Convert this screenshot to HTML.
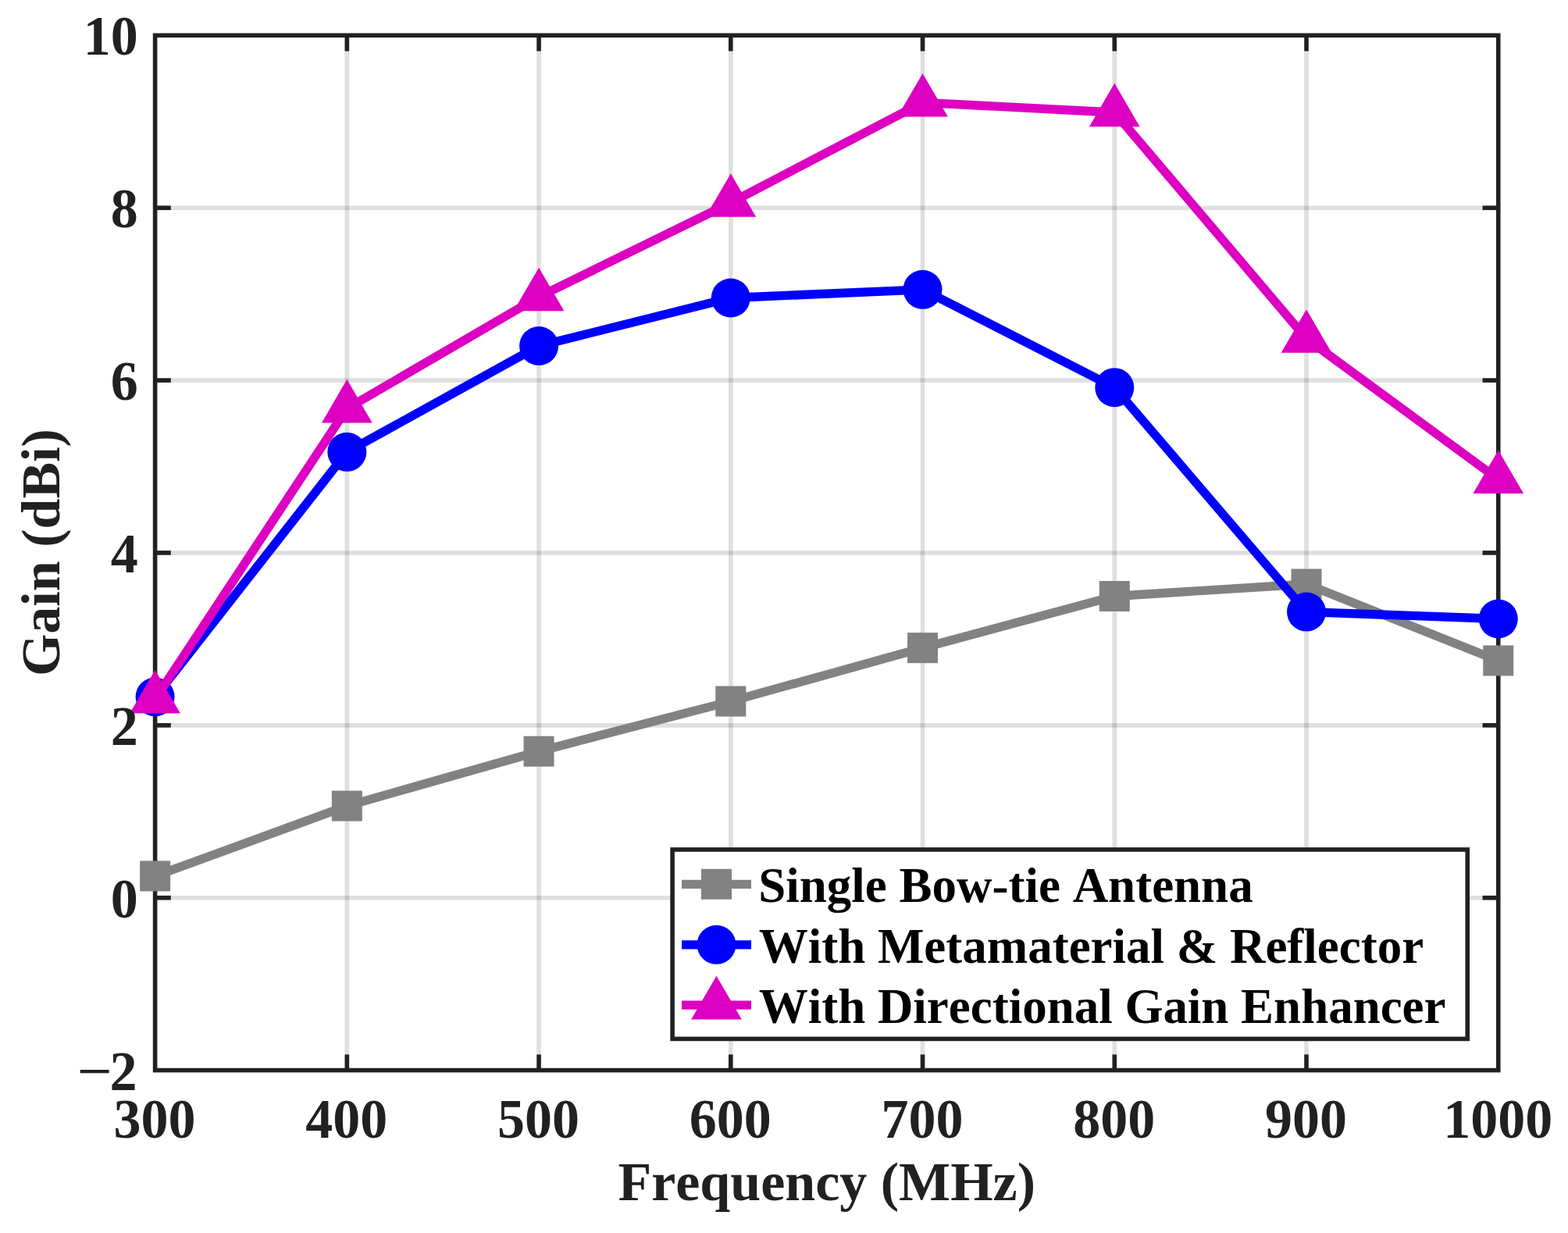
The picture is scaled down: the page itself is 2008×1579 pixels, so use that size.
<!DOCTYPE html>
<html lang="en"><head><meta charset="utf-8"><title>Gain vs Frequency</title>
<style>html,body{margin:0;padding:0;background:#fff;}body{width:2008px;height:1579px;}svg{display:block;}text{font-family:"Liberation Serif","Times New Roman",serif;font-weight:bold;font-kerning:none;}</style>
</head><body>
<svg width="2008" height="1579" viewBox="0 0 2008 1579">
<rect x="0" y="0" width="2008" height="1579" fill="#ffffff"/>
<g stroke="#262626" stroke-opacity="0.15" stroke-width="5.60" fill="none">
<line x1="444.34" y1="45.30" x2="444.34" y2="1370.60"/>
<line x1="690.07" y1="45.30" x2="690.07" y2="1370.60"/>
<line x1="935.81" y1="45.30" x2="935.81" y2="1370.60"/>
<line x1="1181.54" y1="45.30" x2="1181.54" y2="1370.60"/>
<line x1="1427.28" y1="45.30" x2="1427.28" y2="1370.60"/>
<line x1="1673.01" y1="45.30" x2="1673.01" y2="1370.60"/>
<line x1="198.60" y1="1149.72" x2="1918.75" y2="1149.72"/>
<line x1="198.60" y1="928.83" x2="1918.75" y2="928.83"/>
<line x1="198.60" y1="707.95" x2="1918.75" y2="707.95"/>
<line x1="198.60" y1="487.07" x2="1918.75" y2="487.07"/>
<line x1="198.60" y1="266.18" x2="1918.75" y2="266.18"/>
</g>
<g stroke="#212121" stroke-width="5.60" fill="none">
<line x1="444.34" y1="1370.60" x2="444.34" y2="1350.40"/>
<line x1="444.34" y1="45.30" x2="444.34" y2="65.50"/>
<line x1="690.07" y1="1370.60" x2="690.07" y2="1350.40"/>
<line x1="690.07" y1="45.30" x2="690.07" y2="65.50"/>
<line x1="935.81" y1="1370.60" x2="935.81" y2="1350.40"/>
<line x1="935.81" y1="45.30" x2="935.81" y2="65.50"/>
<line x1="1181.54" y1="1370.60" x2="1181.54" y2="1350.40"/>
<line x1="1181.54" y1="45.30" x2="1181.54" y2="65.50"/>
<line x1="1427.28" y1="1370.60" x2="1427.28" y2="1350.40"/>
<line x1="1427.28" y1="45.30" x2="1427.28" y2="65.50"/>
<line x1="1673.01" y1="1370.60" x2="1673.01" y2="1350.40"/>
<line x1="1673.01" y1="45.30" x2="1673.01" y2="65.50"/>
<line x1="198.60" y1="1149.72" x2="218.80" y2="1149.72"/>
<line x1="1918.75" y1="1149.72" x2="1898.55" y2="1149.72"/>
<line x1="198.60" y1="928.83" x2="218.80" y2="928.83"/>
<line x1="1918.75" y1="928.83" x2="1898.55" y2="928.83"/>
<line x1="198.60" y1="707.95" x2="218.80" y2="707.95"/>
<line x1="1918.75" y1="707.95" x2="1898.55" y2="707.95"/>
<line x1="198.60" y1="487.07" x2="218.80" y2="487.07"/>
<line x1="1918.75" y1="487.07" x2="1898.55" y2="487.07"/>
<line x1="198.60" y1="266.18" x2="218.80" y2="266.18"/>
<line x1="1918.75" y1="266.18" x2="1898.55" y2="266.18"/>
<rect x="198.60" y="45.30" width="1720.15" height="1325.30"/>
</g>
<g fill="none" stroke-width="11.30" stroke-linejoin="round" stroke-linecap="butt">
<polyline stroke="#828282" points="198.60,1121.90 444.34,1032.10 690.07,962.20 935.81,898.10 1181.54,829.70 1427.28,763.50 1673.01,748.00 1918.75,846.00"/>
</g>
<g fill="#828282">
<rect x="179.10" y="1102.40" width="39.00" height="39.00"/>
<rect x="424.84" y="1012.60" width="39.00" height="39.00"/>
<rect x="670.57" y="942.70" width="39.00" height="39.00"/>
<rect x="916.31" y="878.60" width="39.00" height="39.00"/>
<rect x="1162.04" y="810.20" width="39.00" height="39.00"/>
<rect x="1407.78" y="744.00" width="39.00" height="39.00"/>
<rect x="1653.51" y="728.50" width="39.00" height="39.00"/>
<rect x="1899.25" y="826.50" width="39.00" height="39.00"/>
</g>
<polyline fill="none" stroke-width="11.30" stroke-linejoin="round" stroke="#0000ff" points="198.60,892.50 444.34,578.80 690.07,443.00 935.81,381.50 1181.54,370.80 1427.28,496.20 1673.01,783.60 1918.75,792.50"/>
<g fill="#0000ff">
<circle cx="198.60" cy="892.50" r="25.00"/>
<circle cx="444.34" cy="578.80" r="25.00"/>
<circle cx="690.07" cy="443.00" r="25.00"/>
<circle cx="935.81" cy="381.50" r="25.00"/>
<circle cx="1181.54" cy="370.80" r="25.00"/>
<circle cx="1427.28" cy="496.20" r="25.00"/>
<circle cx="1673.01" cy="783.60" r="25.00"/>
<circle cx="1918.75" cy="792.50" r="25.00"/>
</g>
<polyline fill="none" stroke-width="11.30" stroke-linejoin="round" stroke="#dd00c2" points="198.60,895.40 444.34,523.20 690.07,380.10 935.81,259.60 1181.54,131.30 1427.28,144.00 1673.01,433.60 1918.75,613.80"/>
<g fill="#dd00c2">
<polygon points="198.60,858.00 230.95,913.60 166.25,913.60"/>
<polygon points="444.34,485.80 476.69,541.40 411.99,541.40"/>
<polygon points="690.07,342.70 722.42,398.30 657.72,398.30"/>
<polygon points="935.81,222.20 968.16,277.80 903.46,277.80"/>
<polygon points="1181.54,93.90 1213.89,149.50 1149.19,149.50"/>
<polygon points="1427.28,106.60 1459.63,162.20 1394.93,162.20"/>
<polygon points="1673.01,396.20 1705.36,451.80 1640.66,451.80"/>
<polygon points="1918.75,576.40 1951.10,632.00 1886.40,632.00"/>
</g>
<g fill="#212121" font-size="70.00px" text-anchor="middle">
<text transform="translate(198.10 1456.70) scale(1 1.028)">300</text>
<text transform="translate(443.84 1456.70) scale(1 1.028)">400</text>
<text transform="translate(689.57 1456.70) scale(1 1.028)">500</text>
<text transform="translate(935.31 1456.70) scale(1 1.028)">600</text>
<text transform="translate(1181.04 1456.70) scale(1 1.028)">700</text>
<text transform="translate(1426.78 1456.70) scale(1 1.028)">800</text>
<text transform="translate(1672.51 1456.70) scale(1 1.028)">900</text>
<text transform="translate(1918.25 1456.70) scale(1 1.028)">1000</text>
</g>
<g fill="#212121" font-size="70.00px" text-anchor="end">
<text transform="translate(176.80 1174.62) scale(1 1.028)">0</text>
<text transform="translate(176.80 953.73) scale(1 1.028)">2</text>
<text transform="translate(176.80 732.85) scale(1 1.028)">4</text>
<text transform="translate(176.80 511.97) scale(1 1.028)">6</text>
<text transform="translate(176.80 291.08) scale(1 1.028)">8</text>
<text transform="translate(176.80 70.20) scale(1 1.028)">10</text>
<text transform="translate(98.71 1392.80) scale(1.137 0.9)" text-anchor="start">−</text>
<text transform="translate(175.50 1395.70) scale(1 1.028)">2</text>
</g>
<text x="1058.70" y="1537.10" font-size="70.00px" fill="#212121" text-anchor="middle">Frequency (MHz)</text>
<text transform="translate(76.00 707.60) rotate(-90)" font-size="70.00px" fill="#212121" text-anchor="middle">Gain (dBi)</text>
<rect x="861.10" y="1088.00" width="1018.15" height="242.40" fill="#ffffff" stroke="#212121" stroke-width="5.60"/>
<line x1="873.00" y1="1132.30" x2="962.00" y2="1132.30" stroke="#828282" stroke-width="11.30"/>
<rect x="898.00" y="1112.80" width="39.00" height="39.00" fill="#828282"/>
<line x1="873.00" y1="1209.80" x2="962.00" y2="1209.80" stroke="#0000ff" stroke-width="11.30"/>
<circle cx="917.50" cy="1209.80" r="25.00" fill="#0000ff"/>
<line x1="873.00" y1="1287.20" x2="962.00" y2="1287.20" stroke="#dd00c2" stroke-width="11.30"/>
<polygon points="917.50,1249.80 949.85,1305.40 885.15,1305.40" fill="#dd00c2"/>
<text x="971.25" y="1154.90" font-size="62.99px" fill="#000000">Single Bow-tie Antenna</text>
<text x="971.71" y="1232.70" font-size="62.98px" fill="#000000">With Metamaterial &amp; Reflector</text>
<text x="971.71" y="1310.00" font-size="62.98px" fill="#000000">With Directional Gain Enhancer</text>
</svg>
</body></html>
